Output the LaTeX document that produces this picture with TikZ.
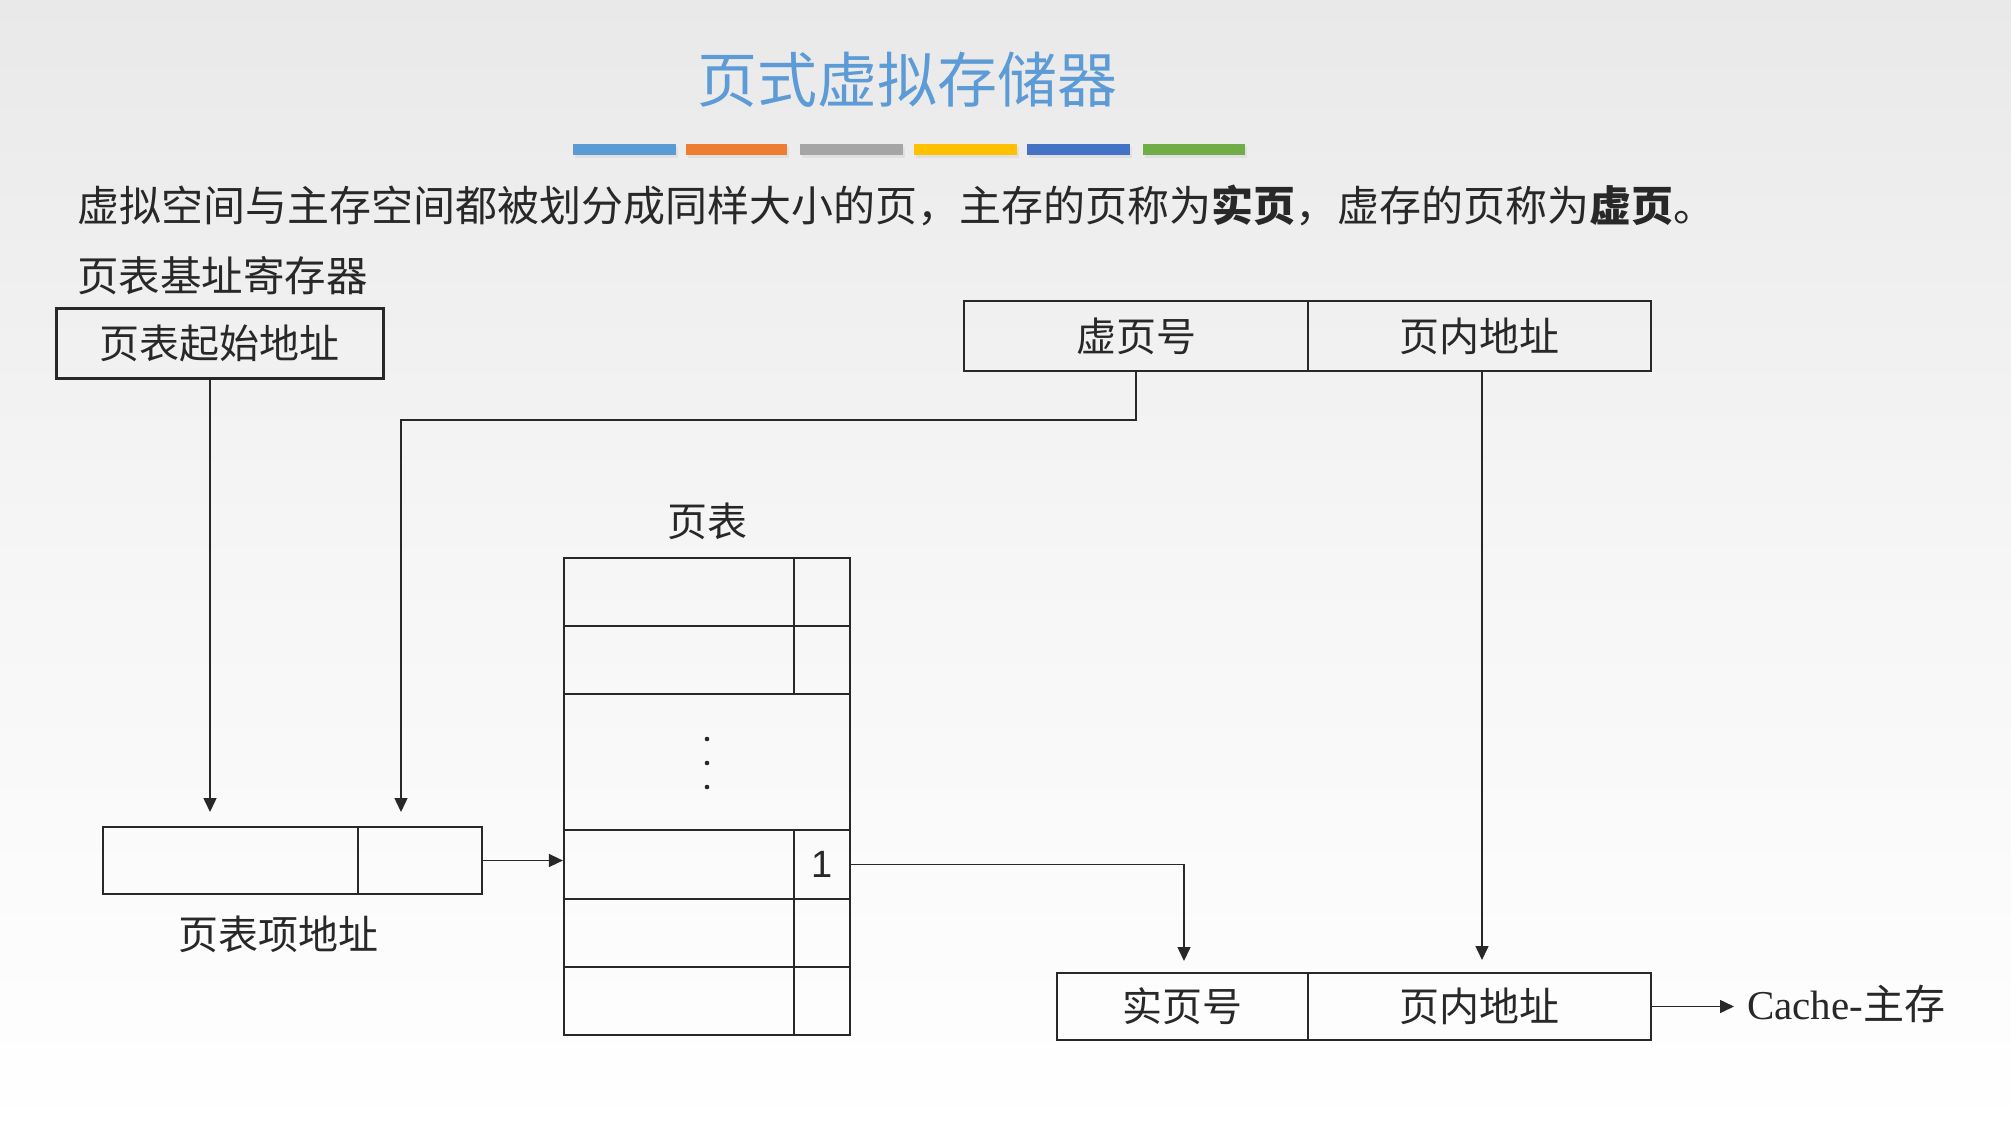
\documentclass[tikz,border=0pt]{standalone}
\usepackage{fontspec}
\setmainfont{Liberation Serif}
\newfontfamily\cjk{Noto Sans CJK SC}
\newfontfamily\numfont{Liberation Sans}
\usetikzlibrary{arrows.meta}
\definecolor{bgtop}{RGB}{233,233,233}
\definecolor{bgmid}{RGB}{246,246,246}
\definecolor{titleblue}{RGB}{92,155,213}
\definecolor{cA}{RGB}{91,155,213}
\definecolor{cB}{RGB}{237,125,49}
\definecolor{cC}{RGB}{165,165,165}
\definecolor{cD}{RGB}{255,192,0}
\definecolor{cE}{RGB}{68,114,196}
\definecolor{cF}{RGB}{112,173,71}
\definecolor{ink}{RGB}{40,40,40}
\begin{document}
\begin{tikzpicture}[x=1pt,y=-1pt,
  cell/.style={draw=ink,line width=2.2pt,inner sep=0pt,font=\cjk\fontsize{40}{40}\selectfont,text=ink},
  lbl/.style={inner sep=0pt,font=\cjk\fontsize{40}{40}\selectfont,text=ink},
  arr/.style={draw=ink,line width=1.5pt,-{Triangle[length=14pt,width=13pt]}},
  conn/.style={draw=ink,line width=1.5pt}]
\useasboundingbox (0,0) rectangle (2011,1137);
\shade[top color=bgtop,bottom color=white,middle color=bgmid] (0,0) rectangle (2011,1137);
% title
\node[inner sep=0pt,font=\cjk\fontsize{60}{60}\selectfont,text=titleblue] (title) at (907,80) {页式虚拟存储器};
% colour bars
\foreach \xa/\xb/\c in {573/676/cA,686/787/cB,800/903/cC,914/1017/cD,1027/1130/cE,1143/1245/cF}{
  \fill[black!12] (\xa+2,147) rectangle (\xb+2,158);
  \fill[\c] (\xa,144) rectangle (\xb,155);
}
% description
\node[lbl,anchor=west,font=\cjk\fontsize{42}{42}\selectfont] (desc) at (77,205) {虚拟空间与主存空间都被划分成同样大小的页，主存的页称为{\bfseries 实页}，虚存的页称为{\bfseries 虚页}。};
\node[lbl,anchor=west,font=\cjk\fontsize{41.5}{41.5}\selectfont] (reglbl) at (77,276) {页表基址寄存器};
% base register
\node[cell,line width=3pt,minimum width=327pt,minimum height=70pt] (base) at (219.5,343) {页表起始地址};
% virtual address
\node[cell,minimum width=344pt,minimum height=70pt] (vpn) at (1136,336) {虚页号};
\node[cell,minimum width=343pt,minimum height=70pt] (voff) at (1479.5,336) {页内地址};
% page-table entry address
\node[cell,minimum width=255pt,minimum height=67pt] (ptea) at (230.5,860.5) {};
\node[cell,minimum width=124pt,minimum height=67pt] (pteb) at (420,860.5) {};
\node[lbl] (ptelbl) at (278,934) {页表项地址};
% page table
\node[lbl] (ptlbl) at (707,521) {页表};
\node[cell,minimum width=230pt,minimum height=68pt] (r1L) at (679,592) {};
\node[cell,minimum width=56pt,minimum height=68pt] (r1R) at (822,592) {};
\node[cell,minimum width=230pt,minimum height=68pt] (r2L) at (679,660) {};
\node[cell,minimum width=56pt,minimum height=68pt] (r2R) at (822,660) {};
\node[cell,minimum width=286pt,minimum height=136pt] (dots) at (707,762) {};
\fill[ink] (707,739) circle (2.3pt) (707,763) circle (2.3pt) (707,787) circle (2.3pt);
\node[cell,minimum width=230pt,minimum height=69pt] (r4L) at (679,864.5) {};
\node[cell,minimum width=56pt,minimum height=69pt,font=\numfont\fontsize{38}{38}\selectfont] (r4R) at (822,864.5) {1};
\node[cell,minimum width=230pt,minimum height=68pt] (r5L) at (679,933) {};
\node[cell,minimum width=56pt,minimum height=68pt] (r5R) at (822,933) {};
\node[cell,minimum width=230pt,minimum height=68pt] (r6L) at (679,1001) {};
\node[cell,minimum width=56pt,minimum height=68pt] (r6R) at (822,1001) {};
% physical address
\node[cell,minimum width=251pt,minimum height=67pt] (ppn) at (1182.5,1006.5) {实页号};
\node[cell,minimum width=343pt,minimum height=67pt] (poff) at (1479.5,1006.5) {页内地址};
\node[inner sep=0pt,anchor=west,font=\fontsize{41}{41}\selectfont,text=ink] (cache) at (1747,1004) {Cache-{\cjk 主存}};
% connectors
\coordinate (a1) at (210,812);
\draw[arr] (a1 |- base.south) -- (a1);
\coordinate (a2) at (401,812);
\draw[arr] (vpn.south) -- ++(0,48) -| (a2);
\coordinate (a3) at (1482,960);
\draw[arr] (a3 |- voff.south) -- (a3);
\draw[arr] (pteb.east) -- (pteb.east -| r4L.west);
\coordinate (a4) at (1184,961);
\draw[arr] (r4R.east) -| (a4);
\coordinate (a5) at (1734,1006.5);
\draw[arr] (poff.east) -- (a5);
\end{tikzpicture}
\end{document}
